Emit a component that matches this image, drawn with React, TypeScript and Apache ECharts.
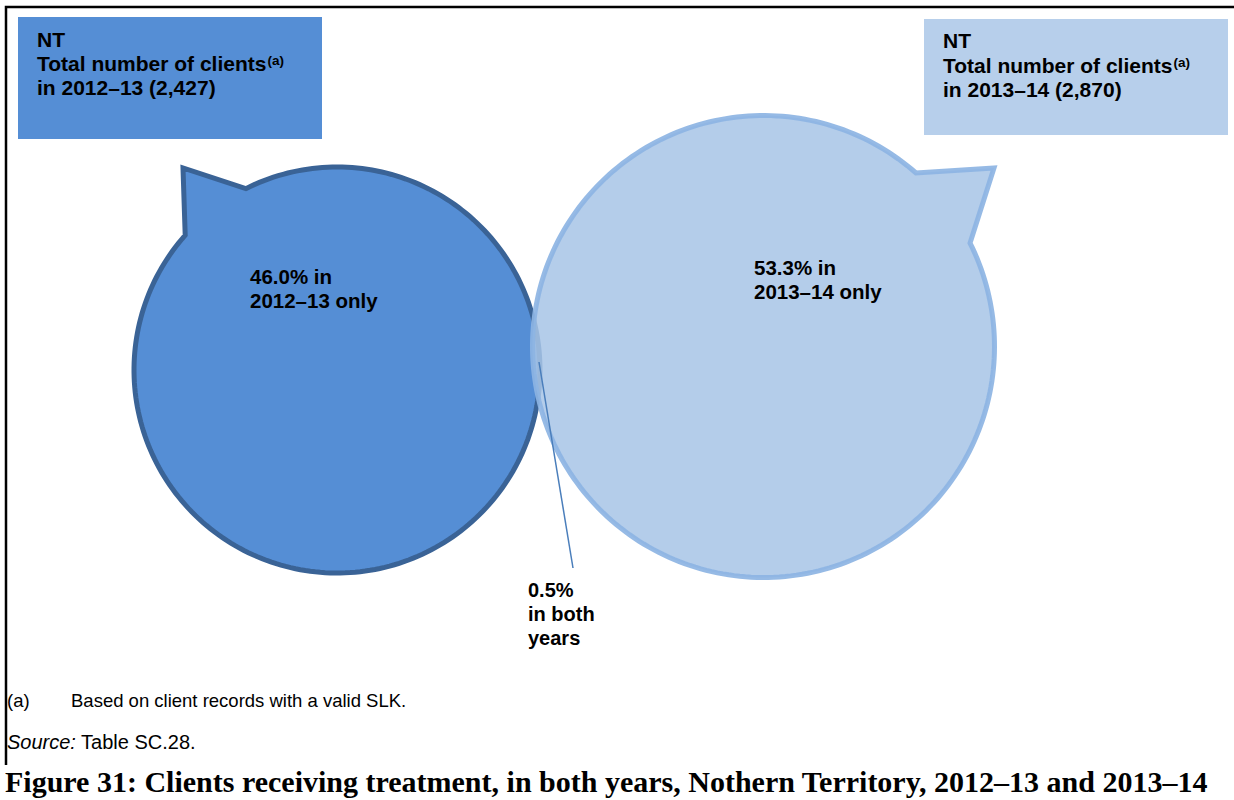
import React, { useEffect, useRef } from "react";
import * as echarts from "echarts";

// Reporting periods and client figures for the Northern Territory
const periods = ["2012–13", "2013–14"];
const totalClients = [2427, 2870];
const onlyShares = [46.0, 53.3];
const bothShare = 0.5;

// Bubble geometry in axis units (the axes span the whole canvas 1:1)
const bubbleCenters = [
  [337, 370],
  [763.5, 346.5],
];
const bubbleRadii = [203, 231];
// Angles (degrees, clockwise from +x) where each callout tail leaves the circle
const tailAngles = [
  [243.3, 221.6],
  [-26.6, -48.7],
];
const tailTips = [
  [183, 168],
  [994, 168],
];
// Top-left anchor of each "only" label
const labelAnchors = [
  [250, 276],
  [754, 267],
];
// Leader line for the overlap label: from the lens to the label
const leaderLine = [
  [539, 362],
  [573, 568],
];
const bothLabelAnchor = [528, 590];

const bubbleFills = ["#558ED5", "rgba(168,197,230,0.86)"];
const bubbleStrokes = ["#3A6396", "rgba(141,180,227,0.92)"];
const boxFills = ["#558ED5", "#B7CFEB"];

const SANS = "Arial, 'Liberation Sans', Helvetica, sans-serif";
const SERIF = "'Liberation Serif', 'Times New Roman', serif";
const fmtCount = (n: number) => n.toLocaleString("en-US");

export default function App() {
  const ref = useRef<HTMLDivElement>(null);

  useEffect(() => {
    document.body.style.margin = "0";
    if (!ref.current) return;
    const chart = echarts.init(ref.current, undefined, { renderer: "svg" });

    const bubbleData = bubbleCenters.map((c, i) => [c[0], c[1], bubbleRadii[i], i]);

    const labelStyle = (text: string, size: number) => ({
      text,
      fill: "#000",
      fontFamily: SANS,
      fontWeight: "bold",
      fontSize: size,
      align: "left",
      verticalAlign: "middle",
    });

    const renderBubble = (params: any, api: any) => {
      const cx = api.value(0);
      const cy = api.value(1);
      const r = api.value(2);
      const i = api.value(3);
      const a = tailAngles[i][0];
      let b = tailAngles[i][1];
      if (b < a) b += 360;
      const pts: number[][] = [];
      const steps = 240;
      for (let k = 0; k <= steps; k++) {
        const t = ((a + ((b - a) * k) / steps) * Math.PI) / 180;
        pts.push(api.coord([cx + r * Math.cos(t), cy + r * Math.sin(t)]));
      }
      pts.push(api.coord(tailTips[i]));
      const anchor = api.coord(labelAnchors[i]);
      return {
        type: "group",
        children: [
          {
            type: "polygon",
            shape: { points: pts },
            style: {
              fill: bubbleFills[i],
              stroke: bubbleStrokes[i],
              lineWidth: 5,
              lineJoin: "miter",
            },
          },
          {
            type: "text",
            x: anchor[0],
            y: anchor[1],
            style: labelStyle(`${onlyShares[i].toFixed(1)}% in`, 20.5),
          },
          {
            type: "text",
            x: anchor[0],
            y: anchor[1] + 24,
            style: labelStyle(`${periods[i]} only`, 20.5),
          },
        ],
      };
    };

    const renderLeader = (params: any, api: any) => {
      const p1 = api.coord([api.value(0), api.value(1)]);
      const p2 = api.coord([api.value(2), api.value(3)]);
      const lab = api.coord(bothLabelAnchor);
      const lines = [`${bothShare.toFixed(1)}%`, "in both", "years"];
      return {
        type: "group",
        children: [
          {
            type: "line",
            shape: { x1: p1[0], y1: p1[1], x2: p2[0], y2: p2[1] },
            style: { stroke: "#4A7EBB", lineWidth: 1.5 },
          },
          ...lines.map((t, k) => ({
            type: "text",
            x: lab[0],
            y: lab[1] + k * 24,
            style: labelStyle(t, 20),
          })),
        ],
      };
    };

    const boxText = (x: number, y: number, i: number) => [
      {
        type: "rect",
        shape: { x, y, width: 304, height: i === 0 ? 122 : 116 },
        style: { fill: boxFills[i] },
      },
      {
        type: "text",
        x: x + 19,
        y: y + (i === 0 ? 22 : 21),
        style: labelStyle("NT", 21),
      },
      {
        type: "text",
        x: x + 19,
        y: y + 46.5,
        style: {
          ...labelStyle("Total number of clients{sup|(a)}", 21),
          rich: {
            sup: {
              fontFamily: SANS,
              fontWeight: "bold",
              fontSize: 13.5,
              verticalAlign: "top",
              fill: "#000",
              padding: [0, 0, 0, 1],
            },
          },
        },
      },
      {
        type: "text",
        x: x + 19,
        y: y + 70.5,
        style: labelStyle(`in ${periods[i]} (${fmtCount(totalClients[i])})`, 21),
      },
    ];

    chart.setOption({
      animation: false,
      backgroundColor: "#ffffff",
      grid: { left: 0, right: 0, top: 0, bottom: 0 },
      xAxis: { type: "value", min: 0, max: 1234, show: false },
      yAxis: { type: "value", min: 0, max: 800, inverse: true, show: false },
      series: [
        {
          type: "custom",
          clip: false,
          silent: true,
          data: bubbleData,
          encode: { x: 0, y: 1 },
          renderItem: renderBubble,
          z: 2,
        },
        {
          type: "custom",
          clip: false,
          silent: true,
          data: [[leaderLine[0][0], leaderLine[0][1], leaderLine[1][0], leaderLine[1][1]]],
          encode: { x: 0, y: 1 },
          renderItem: renderLeader,
          z: 3,
        },
      ],
      graphic: [
        {
          type: "polyline",
          shape: { points: [[6, 765], [6, 7], [1234, 7]] },
          style: { stroke: "#000", lineWidth: 2.5, fill: null },
        },
        ...boxText(18, 17, 0),
        ...boxText(924, 19, 1),
        {
          type: "text",
          x: 7,
          y: 700,
          style: { text: "(a)", fill: "#000", fontFamily: SANS, fontSize: 18.5, verticalAlign: "middle" },
        },
        {
          type: "text",
          x: 71,
          y: 700,
          style: {
            text: "Based on client records with a valid SLK.",
            fill: "#000",
            fontFamily: SANS,
            fontSize: 18.5,
            verticalAlign: "middle",
          },
        },
        {
          type: "text",
          x: 7,
          y: 742,
          style: {
            text: "{i|Source:} Table SC.28.",
            fill: "#000",
            fontFamily: SANS,
            fontSize: 20,
            verticalAlign: "middle",
            rich: {
              i: { fontFamily: SANS, fontSize: 20, fontStyle: "italic", fill: "#000" },
            },
          },
        },
        {
          type: "text",
          x: 5,
          y: 781,
          style: {
            text: "Figure 31: Clients receiving treatment, in both years, Nothern Territory, 2012–13 and 2013–14",
            fill: "#000",
            fontFamily: SERIF,
            fontWeight: "bold",
            fontSize: 30,
            verticalAlign: "middle",
          },
        },
      ],
    });

    return () => chart.dispose();
  }, []);

  return <div ref={ref} style={{ width: 1234, height: 800 }} />;
}
